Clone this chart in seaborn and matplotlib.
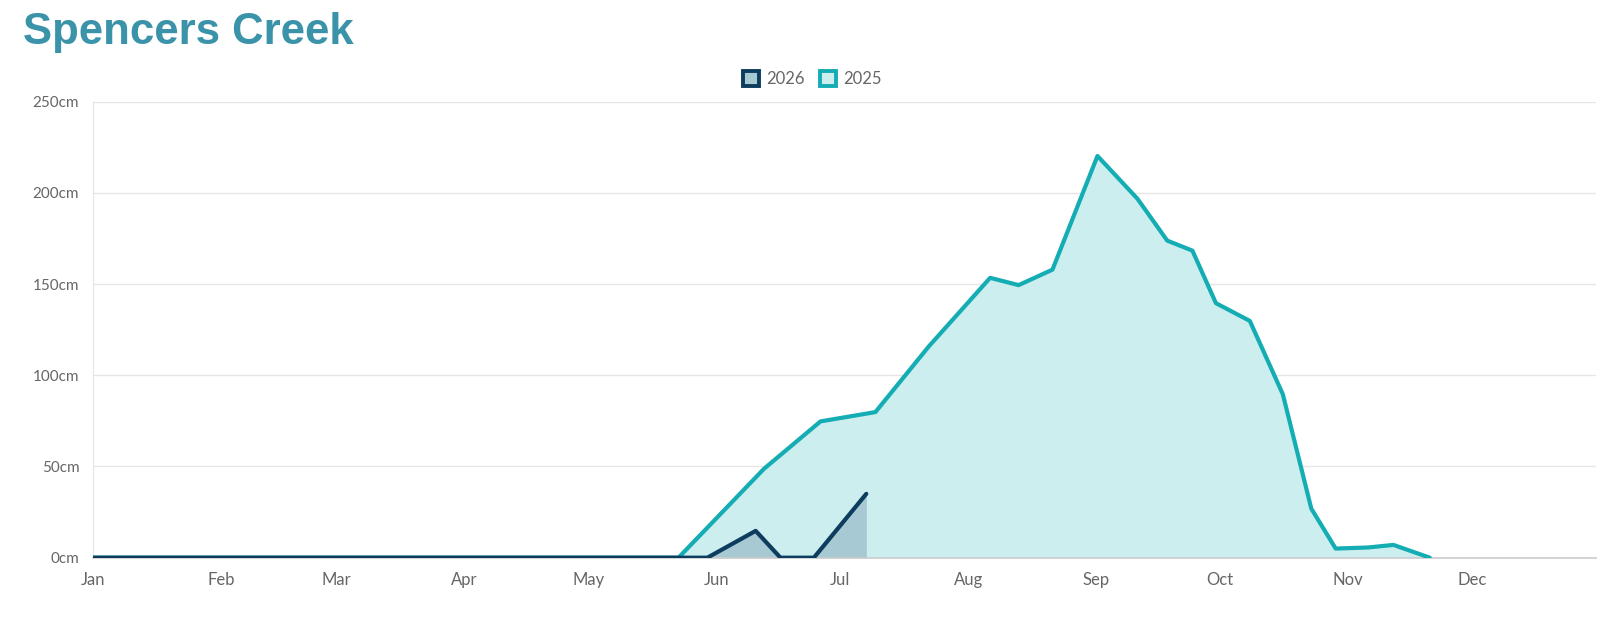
import pandas as pd
import seaborn as sns
import matplotlib.pyplot as plt
from matplotlib.patches import Patch

# Day-of-year positions and snow depth (cm)
days_2025 = [0, 141.8, 162.5, 176.2, 189.5, 202.4, 217.3, 224.2, 232.4, 243.3,
             253.0, 260.2, 266.3, 272.0, 280.2, 288.2, 295.1, 301.0, 308.9, 315.0, 323.8]
depth_2025 = [0, 0, 48.7, 74.7, 79.8, 115.7, 153.4, 149.4, 157.9, 220.2,
              196.7, 173.8, 168.3, 139.5, 129.8, 89.6, 26.9, 5.0, 5.6, 7.0, 0]

days_2026 = [0, 148.8, 160.5, 166.5, 174.6, 187.3]
depth_2026 = [0, 0, 14.7, 0, 0, 35.0]

month_labels = ["Jan", "Feb", "Mar", "Apr", "May", "Jun", "Jul", "Aug", "Sep", "Oct", "Nov", "Dec"]
month_starts = [0, 31, 59, 90, 120, 151, 181, 212, 243, 273, 304, 334]
y_ticks = [0, 50, 100, 150, 200, 250]

C25_LINE, C25_FILL = "#14adb3", "#cdeeef"
C26_LINE, C26_FILL = "#0c3c5e", "#a7c9d3"
GREY = "#666666"

sns.set_style("white")
plt.rcParams["font.family"] = ["Lato", "DejaVu Sans"]

df25 = pd.DataFrame({"day": days_2025, "depth": depth_2025})
df26 = pd.DataFrame({"day": days_2026, "depth": depth_2026})

fig = plt.figure(figsize=(16.06, 6.18), dpi=100)
ax = fig.add_axes([0.058, 0.0976, 0.9356, 0.738])

ax.fill_between(df25["day"], df25["depth"], color=C25_FILL, lw=0, zorder=1)
ax.fill_between(df26["day"], df26["depth"], color=C26_FILL, lw=0, zorder=2)
sns.lineplot(data=df25, x="day", y="depth", color=C25_LINE, lw=3, ax=ax, zorder=3)
sns.lineplot(data=df26, x="day", y="depth", color=C26_LINE, lw=3, ax=ax, zorder=4)

ax.set_xlim(0, 364)
ax.set_ylim(0, 250)
ax.set_yticks(y_ticks)
ax.set_yticklabels([f"{v}cm" for v in y_ticks])
ax.set_xticks(month_starts)
ax.set_xticklabels(month_labels)
ax.set_xlabel("")
ax.set_ylabel("")
ax.tick_params(axis="y", length=8, width=1, color="#d9d9d9", labelcolor=GREY, labelsize=11, pad=2)
ax.tick_params(axis="x", length=0, labelcolor=GREY, labelsize=12, pad=10)
ax.grid(axis="y", color="#e6e6e6", lw=1)
ax.set_axisbelow(True)
for side in ["top", "right"]:
    ax.spines[side].set_visible(False)
ax.spines["left"].set_color("#e6e6e6")
ax.spines["bottom"].set_color("#cccccc")
ax.spines["bottom"].set_linewidth(1.2)

handles = [Patch(facecolor=C26_FILL, edgecolor=C26_LINE, lw=2.8, label="2026"),
           Patch(facecolor=C25_FILL, edgecolor=C25_LINE, lw=2.8, label="2025")]
fig.legend(handles=handles, loc="center", bbox_to_anchor=(0.506, 0.872), ncol=2, frameon=False,
           handlelength=0.95, handleheight=0.95, handletextpad=0.45, columnspacing=0.9,
           fontsize=12, labelcolor=GREY)

fig.text(0.0143, 0.948, "Spencers Creek", fontsize=31.5, fontweight="bold",
         color="#3a93a8", family=["Liberation Sans", "DejaVu Sans"], va="center")

fig.savefig("out.png", dpi=100)
